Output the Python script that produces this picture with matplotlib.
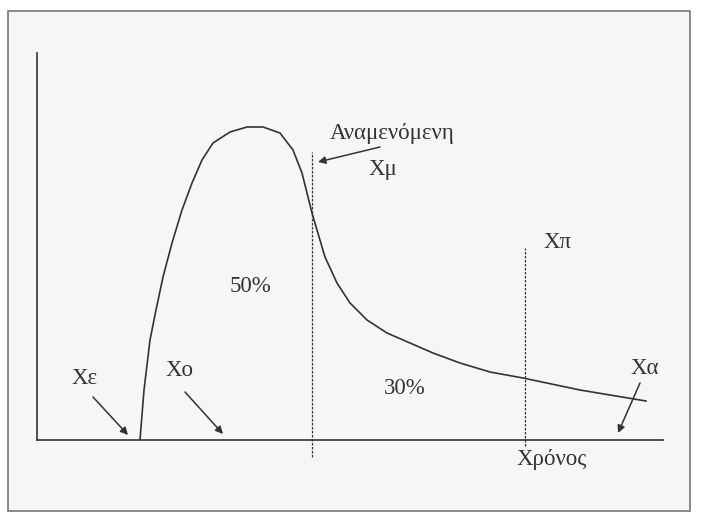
import matplotlib.pyplot as plt
from matplotlib.patches import Rectangle

plt.rcParams['font.family'] = ['Liberation Serif', 'DejaVu Serif']

# curve (time, density)
curve_x = [103, 107, 113, 119, 126, 135, 145, 155, 165, 176, 193, 210, 226, 243,
           256, 265, 270, 275, 280, 288, 300, 313, 330, 350, 373, 396, 423, 453,
           486, 543, 609]
curve_y = [0, 50, 100, 130, 163, 197, 230, 257, 280, 297, 308, 313, 313, 307,
           290, 267, 247, 227, 210, 183, 157, 137, 120, 107, 97, 87, 77, 68,
           62, 50, 39]

# dashed markers: expected value and the other one
mu_x, mu_top, mu_bottom = 275, 288, -17
pi_x, pi_top, pi_bottom = 488, 192, -6

# labels (text, x, y)
labels = [
    ("Αναμενόμενη", 355, 307),
    ("Χμ", 346, 270),
    ("50%", 213, 153),
    ("30%", 368, 52),
    ("Χπ", 521, 197),
    ("Χα", 608, 72),
    ("Χρόνος", 515, -20),
    ("Χε", 48, 62),
    ("Χο", 143, 70),
]

# arrows (from, to)
arrows = [
    ((343, 293), (281, 278)),
    ((603, 57), (581, 7)),
    ((56, 43), (91, 5)),
    ((148, 48), (186, 6)),
]

ink = '#333333'

fig = plt.figure(figsize=(7.02, 5.15), dpi=100)
fig.patch.set_facecolor('white')

# outer frame of the scanned figure
fig.patches.append(Rectangle((8 / 702, 4 / 515), 682 / 702, 500 / 515,
                             transform=fig.transFigure, facecolor='#f6f6f6',
                             edgecolor='#777777', lw=1.2, zorder=-10))

ax = fig.add_axes([37 / 702, 75 / 515, 626 / 702, 387 / 515])
ax.set_facecolor('none')
ax.set_xlim(0, 626)
ax.set_ylim(0, 387)
for side in ['top', 'right']:
    ax.spines[side].set_visible(False)
for side in ['left', 'bottom']:
    ax.spines[side].set_color(ink)
    ax.spines[side].set_linewidth(1.2)
ax.set_xticks([])
ax.set_yticks([])

ax.plot(curve_x, curve_y, color=ink, lw=1.2, solid_joinstyle='round')

ax.plot([mu_x, mu_x], [mu_bottom, mu_top], color=ink, lw=0.9,
        linestyle=(0, (2, 1.2)), clip_on=False)
ax.plot([pi_x, pi_x], [pi_bottom, pi_top], color=ink, lw=0.9,
        linestyle=(0, (2, 1.2)), clip_on=False)

for txt, x, y in labels:
    ax.text(x, y, txt, ha='center', va='center', fontsize=16.5, color=ink,
            clip_on=False)

for (x0, y0), (x1, y1) in arrows:
    ax.annotate('', xy=(x1, y1), xytext=(x0, y0), annotation_clip=False,
                arrowprops=dict(arrowstyle='-|>', color=ink, lw=1.1,
                                mutation_scale=11, shrinkA=0, shrinkB=0))

plt.savefig('out.png', dpi=100, facecolor=fig.get_facecolor())
